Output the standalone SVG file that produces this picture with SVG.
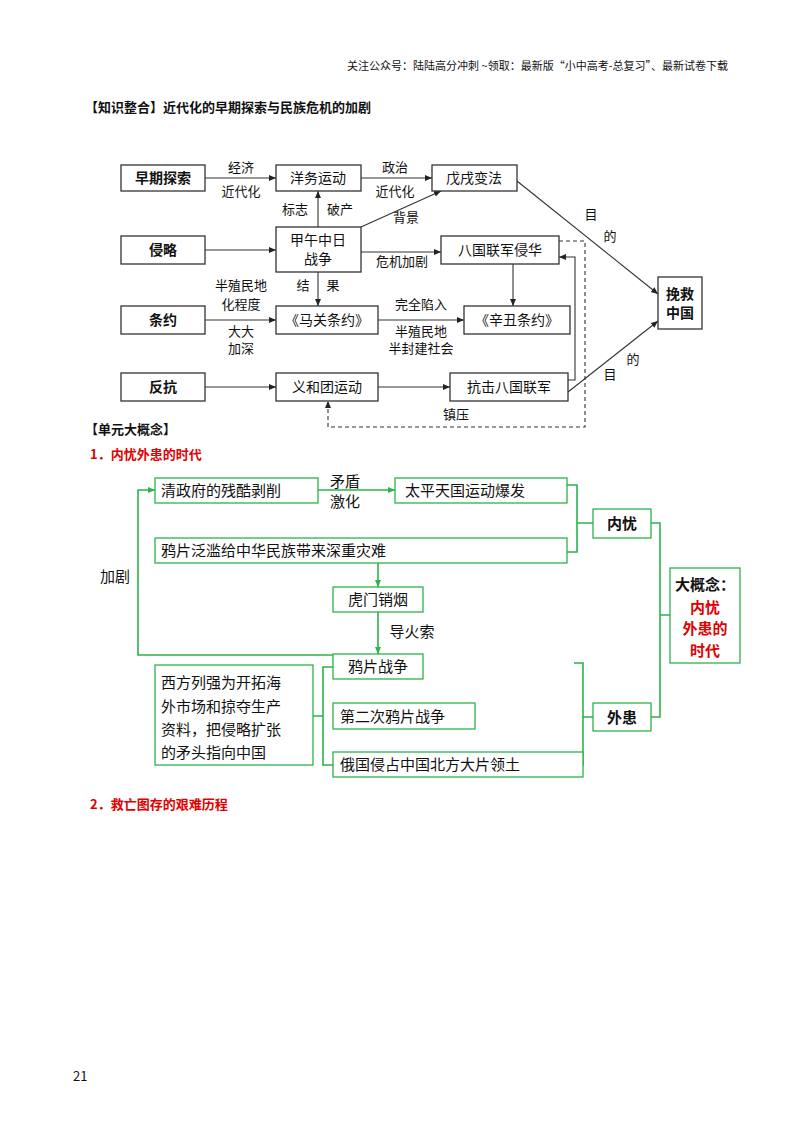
<svg xmlns="http://www.w3.org/2000/svg" width="800" height="1132" viewBox="0 0 800 1132">
<defs>
<marker id="a" markerWidth="8" markerHeight="8" refX="7" refY="4" orient="auto" markerUnits="userSpaceOnUse"><path d="M0,1 L7,4 L0,7 z" fill="#222"/></marker>
<marker id="g" markerWidth="8" markerHeight="8" refX="7" refY="4" orient="auto" markerUnits="userSpaceOnUse"><path d="M0,1 L7,4 L0,7 z" fill="#2db34a"/></marker>
</defs>
<style>
text{font-family:"Noto Sans CJK SC","Liberation Sans",sans-serif;fill:#111}
.b rect{fill:#fff;stroke:#333;stroke-width:1.3}
.b text{font-size:14px;text-anchor:middle}
.k text{font-weight:bold}
.l{font-size:13px;text-anchor:middle}
.c line,.c path{stroke:#333;stroke-width:1.1;fill:none}
.gb rect{fill:#fff;stroke:#2db34a;stroke-width:1.3}
.gb text{font-size:15px}
.gc path{stroke:#2db34a;stroke-width:1.6;fill:none}
.h{font-size:13px;font-weight:bold}
.r{fill:#e00000}
</style>
<text x="728" y="70" font-size="11" text-anchor="end">关注公众号：陆陆高分冲刺  ~领取：最新版“小中高考-总复习”、最新试卷下载</text>
<text x="85" y="112" class="h">【知识整合】近代化的早期探索与民族危机的加剧</text>

<g class="c">
<line x1="205" y1="178" x2="276" y2="178" marker-end="url(#a)"/>
<line x1="361" y1="178" x2="432" y2="178" marker-end="url(#a)"/>
<line x1="318" y1="227" x2="318" y2="191" marker-end="url(#a)"/>
<line x1="361" y1="227" x2="441" y2="191" marker-end="url(#a)"/>
<line x1="205" y1="250" x2="276" y2="250" marker-end="url(#a)"/>
<line x1="361" y1="252" x2="441" y2="252" marker-end="url(#a)"/>
<line x1="318" y1="272" x2="318" y2="306" marker-end="url(#a)"/>
<line x1="205" y1="320" x2="276" y2="320" marker-end="url(#a)"/>
<line x1="378" y1="320" x2="464" y2="320" marker-end="url(#a)"/>
<line x1="513" y1="264" x2="513" y2="306" marker-end="url(#a)"/>
<line x1="205" y1="387" x2="276" y2="387" marker-end="url(#a)"/>
<line x1="378" y1="387" x2="450" y2="387" marker-end="url(#a)"/>
<path d="M568,380 H575 V257 H559" marker-end="url(#a)"/>
<path d="M559,241 H585 V427 H328 V401" stroke-dasharray="4,3" marker-end="url(#a)"/>
<line x1="517" y1="181" x2="658" y2="294" marker-end="url(#a)"/>
<line x1="568" y1="392" x2="658" y2="321" marker-end="url(#a)"/>
</g>
<g class="b" id="n1"><rect x="121" y="165" width="84" height="26"/><text x="163" y="183" font-weight="bold">早期探索</text></g>
<g class="b" id="n2"><rect x="276" y="165" width="85" height="26"/><text x="318" y="183">洋务运动</text></g>
<g class="b" id="n3"><rect x="432" y="165" width="85" height="26"/><text x="474" y="183">戊戌变法</text></g>
<g class="b" id="n4"><rect x="121" y="236" width="84" height="28"/><text x="163" y="255" font-weight="bold">侵略</text></g>
<g class="b" id="n5"><rect x="276" y="227" width="85" height="45"/><text x="318" y="245">甲午中日</text><text x="318" y="264">战争</text></g>
<g class="b" id="n6"><rect x="441" y="236" width="118" height="28"/><text x="500" y="255">八国联军侵华</text></g>
<g class="b" id="n7"><rect x="121" y="306" width="84" height="28"/><text x="163" y="325" font-weight="bold">条约</text></g>
<g class="b" id="n8"><rect x="276" y="306" width="102" height="28"/><text x="327" y="325">《马关条约》</text></g>
<g class="b" id="n9"><rect x="464" y="306" width="106" height="28"/><text x="517" y="325">《辛丑条约》</text></g>
<g class="b" id="n10"><rect x="121" y="373" width="84" height="28"/><text x="163" y="392" font-weight="bold">反抗</text></g>
<g class="b" id="n11"><rect x="276" y="373" width="102" height="28"/><text x="327" y="392">义和团运动</text></g>
<g class="b" id="n12"><rect x="450" y="373" width="118" height="28"/><text x="509" y="392">抗击八国联军</text></g>
<g class="b" id="n13"><rect x="658" y="277" width="44" height="52"/><text x="680" y="299" font-weight="bold">挽救</text><text x="680" y="318" font-weight="bold">中国</text></g>
<g>
<text class="l" x="241" y="172">经济</text><text class="l" x="241" y="196">近代化</text>
<text class="l" x="395" y="172">政治</text><text class="l" x="395" y="196">近代化</text>
<text class="l" x="295" y="214">标志</text><text class="l" x="340" y="214">破产</text>
<text class="l" x="406" y="222">背景</text>
<text class="l" x="402" y="266">危机加剧</text>
<text class="l" x="241" y="290">半殖民地</text><text class="l" x="241" y="309">化程度</text>
<text class="l" x="241" y="336">大大</text><text class="l" x="241" y="353">加深</text>
<text class="l" x="303" y="290">结</text><text class="l" x="333" y="290">果</text>
<text class="l" x="421" y="309">完全陷入</text>
<text class="l" x="421" y="336">半殖民地</text><text class="l" x="421" y="353">半封建社会</text>
<text class="l" x="591" y="219">目</text><text class="l" x="610" y="241">的</text>
<text class="l" x="633" y="364">的</text><text class="l" x="610" y="379">目</text>
<text class="l" x="456" y="419">镇压</text>
</g>

<text x="85" y="434" class="h">【单元大概念】</text>
<text x="90" y="459" class="h r">1．内忧外患的时代</text>

<g class="gc">
<path d="M318,490 H395" marker-end="url(#g)"/>
<path d="M333,655 H138 V490 H155" marker-end="url(#g)"/>
<path d="M567,485 H577 V552 H567 M577,523 H593"/>
<path d="M651,523 H660 V717 H651 M660,615 H670"/>
<path d="M378,563 V587" marker-end="url(#g)"/>
<path d="M378,612 V654" marker-end="url(#g)"/>
<path d="M333,667 H323 V765 H333 M323,716 H313"/>
<path d="M574,663 H583 V765 H577 M583,717 H593"/>
</g>
<g class="gb" id="m1"><rect x="155" y="478" width="163" height="25"/><text x="161" y="496">清政府的残酷剥削</text></g>
<g class="gb" id="m2"><rect x="395" y="478" width="172" height="25"/><text x="405" y="496">太平天国运动爆发</text></g>
<g class="gb" id="m3"><rect x="155" y="538" width="412" height="25"/><text x="161" y="556">鸦片泛滥给中华民族带来深重灾难</text></g>
<g class="gb" id="m4"><rect x="593" y="509" width="58" height="29"/><text x="622" y="529" text-anchor="middle" font-weight="bold">内忧</text></g>
<g class="gb" id="m5"><rect x="333" y="587" width="90" height="25"/><text x="378" y="605" text-anchor="middle">虎门销烟</text></g>
<g class="gb" id="m6"><rect x="333" y="654" width="90" height="25"/><text x="378" y="672" text-anchor="middle">鸦片战争</text></g>
<g class="gb" id="m7"><rect x="155" y="665" width="158" height="100"/><text x="161" y="688">西方列强为开拓海</text><text x="161" y="712">外市场和掠夺生产</text><text x="161" y="735">资料，把侵略扩张</text><text x="161" y="758">的矛头指向中国</text></g>
<g class="gb" id="m8"><rect x="333" y="703" width="142" height="26"/><text x="340" y="722">第二次鸦片战争</text></g>
<g class="gb" id="m9"><rect x="333" y="752" width="250" height="25"/><text x="340" y="770">俄国侵占中国北方大片领土</text></g>
<g class="gb" id="m10"><rect x="593" y="703" width="58" height="28"/><text x="622" y="723" text-anchor="middle" font-weight="bold">外患</text></g>
<g class="gb" id="m11"><rect x="670" y="568" width="70" height="95"/><text x="705" y="590" text-anchor="middle" font-weight="bold">大概念：</text><text x="705" y="613" text-anchor="middle" font-weight="bold" class="r">内忧</text><text x="705" y="634" text-anchor="middle" font-weight="bold" class="r">外患的</text><text x="705" y="656" text-anchor="middle" font-weight="bold" class="r">时代</text></g>
<text x="115" y="582" font-size="15" text-anchor="middle">加剧</text>
<text x="345" y="487" font-size="15" text-anchor="middle">矛盾</text>
<text x="345" y="507" font-size="15" text-anchor="middle">激化</text>
<text x="412" y="637" font-size="15" text-anchor="middle">导火索</text>

<text x="90" y="809" class="h r">2．救亡图存的艰难历程</text>
<text x="73" y="1081" font-size="13" font-family="Liberation Serif,serif">21</text>
</svg>
